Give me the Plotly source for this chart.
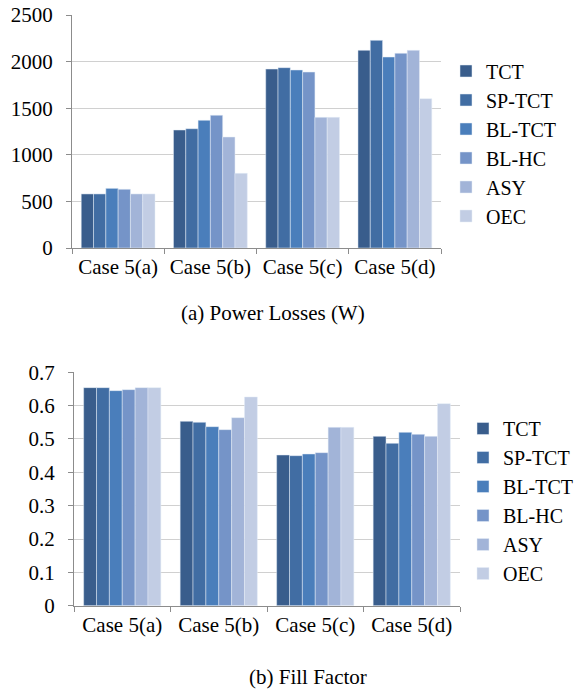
import plotly.graph_objects as go

categories = ["Case 5(a)", "Case 5(b)", "Case 5(c)", "Case 5(d)"]
series_names = ["TCT", "SP-TCT", "BL-TCT", "BL-HC", "ASY", "OEC"]
colors = ["#395D8C", "#416DA3", "#4A7EBB", "#7594C8", "#A2B4D8", "#C2CDE4"]

# (a) Power losses (W)
loss_TCT = [580, 1266, 1920, 2121]
loss_SPTCT = [580, 1280, 1935, 2228]
loss_BLTCT = [640, 1370, 1910, 2049]
loss_BLHC = [630, 1424, 1888, 2089]
loss_ASY = [580, 1191, 1402, 2121]
loss_OEC = [580, 801, 1402, 1602]

# (b) Fill factor
ff_TCT = [0.654, 0.553, 0.452, 0.508]
ff_SPTCT = [0.654, 0.550, 0.450, 0.487]
ff_BLTCT = [0.645, 0.537, 0.455, 0.520]
ff_BLHC = [0.648, 0.528, 0.459, 0.514]
ff_ASY = [0.654, 0.564, 0.535, 0.508]
ff_OEC = [0.654, 0.626, 0.535, 0.606]

losses = [loss_TCT, loss_SPTCT, loss_BLTCT, loss_BLHC, loss_ASY, loss_OEC]
ffs = [ff_TCT, ff_SPTCT, ff_BLTCT, ff_BLHC, ff_ASY, ff_OEC]

FONT = "Liberation Serif"
W, H = 584, 691


def px(x):
    return x / W


def py(y):
    return 1 - y / H


fig = go.Figure()
for name, vals, c in zip(series_names, losses, colors):
    fig.add_trace(go.Bar(x=categories, y=vals, name=name, marker_color=c,
                         xaxis="x", yaxis="y", legend="legend",
                         legendgroup="a_" + name))
for name, vals, c in zip(series_names, ffs, colors):
    fig.add_trace(go.Bar(x=categories, y=vals, name=name, marker_color=c,
                         xaxis="x2", yaxis="y2", legend="legend2",
                         legendgroup="b_" + name))

axis_common = dict(showline=True, linecolor="#8c8c8c", linewidth=1,
                   ticks="outside", tickcolor="#8c8c8c", ticklen=5,
                   automargin=False,
                   tickfont=dict(family=FONT, size=21, color="black"))

fig.update_layout(
    width=W, height=H,
    margin=dict(l=0, r=0, t=0, b=0),
    paper_bgcolor="white", plot_bgcolor="white",
    barmode="group", bargap=0.2, bargroupgap=0,
    font=dict(family=FONT, size=20, color="black"),
    xaxis=dict(domain=[px(72), px(441)], anchor="y", type="category",
               tickson="boundaries", showgrid=False, **axis_common),
    yaxis=dict(domain=[py(248), py(15)], anchor="x", range=[0, 2500],
               dtick=500, showgrid=True, gridcolor="#d0d0d0", gridwidth=1,
               zeroline=False, ticklabelstandoff=9, **axis_common),
    xaxis2=dict(domain=[px(74), px(460)], anchor="y2", type="category",
                tickson="boundaries", showgrid=False, **axis_common),
    yaxis2=dict(domain=[py(605.7), py(372.3)], anchor="x2", range=[0, 0.7],
                dtick=0.1, showgrid=True, gridcolor="#d0d0d0", gridwidth=1,
                zeroline=False, ticklabelstandoff=9, **axis_common),
    legend=dict(x=px(446), y=py(143.5), xanchor="left", yanchor="middle",
                font=dict(family=FONT, size=20, color="black"),
                tracegroupgap=0, itemwidth=30, bgcolor="rgba(0,0,0,0)"),
    legend2=dict(x=px(463), y=py(501), xanchor="left", yanchor="middle",
                 font=dict(family=FONT, size=20, color="black"),
                 tracegroupgap=0, itemwidth=30, bgcolor="rgba(0,0,0,0)"),
    annotations=[
        dict(text="(a) Power Losses (W)", x=px(273), y=py(313),
             xref="paper", yref="paper", showarrow=False,
             xanchor="center", yanchor="middle",
             font=dict(family=FONT, size=21, color="black")),
        dict(text="(b) Fill Factor", x=px(308), y=py(677),
             xref="paper", yref="paper", showarrow=False,
             xanchor="center", yanchor="middle",
             font=dict(family=FONT, size=21, color="black")),
    ],
)

fig.write_html("out.html",
               config={"displayModeBar": False},
               post_script="document.body.style.margin='0';"
                           "document.body.style.overflow='hidden';")
